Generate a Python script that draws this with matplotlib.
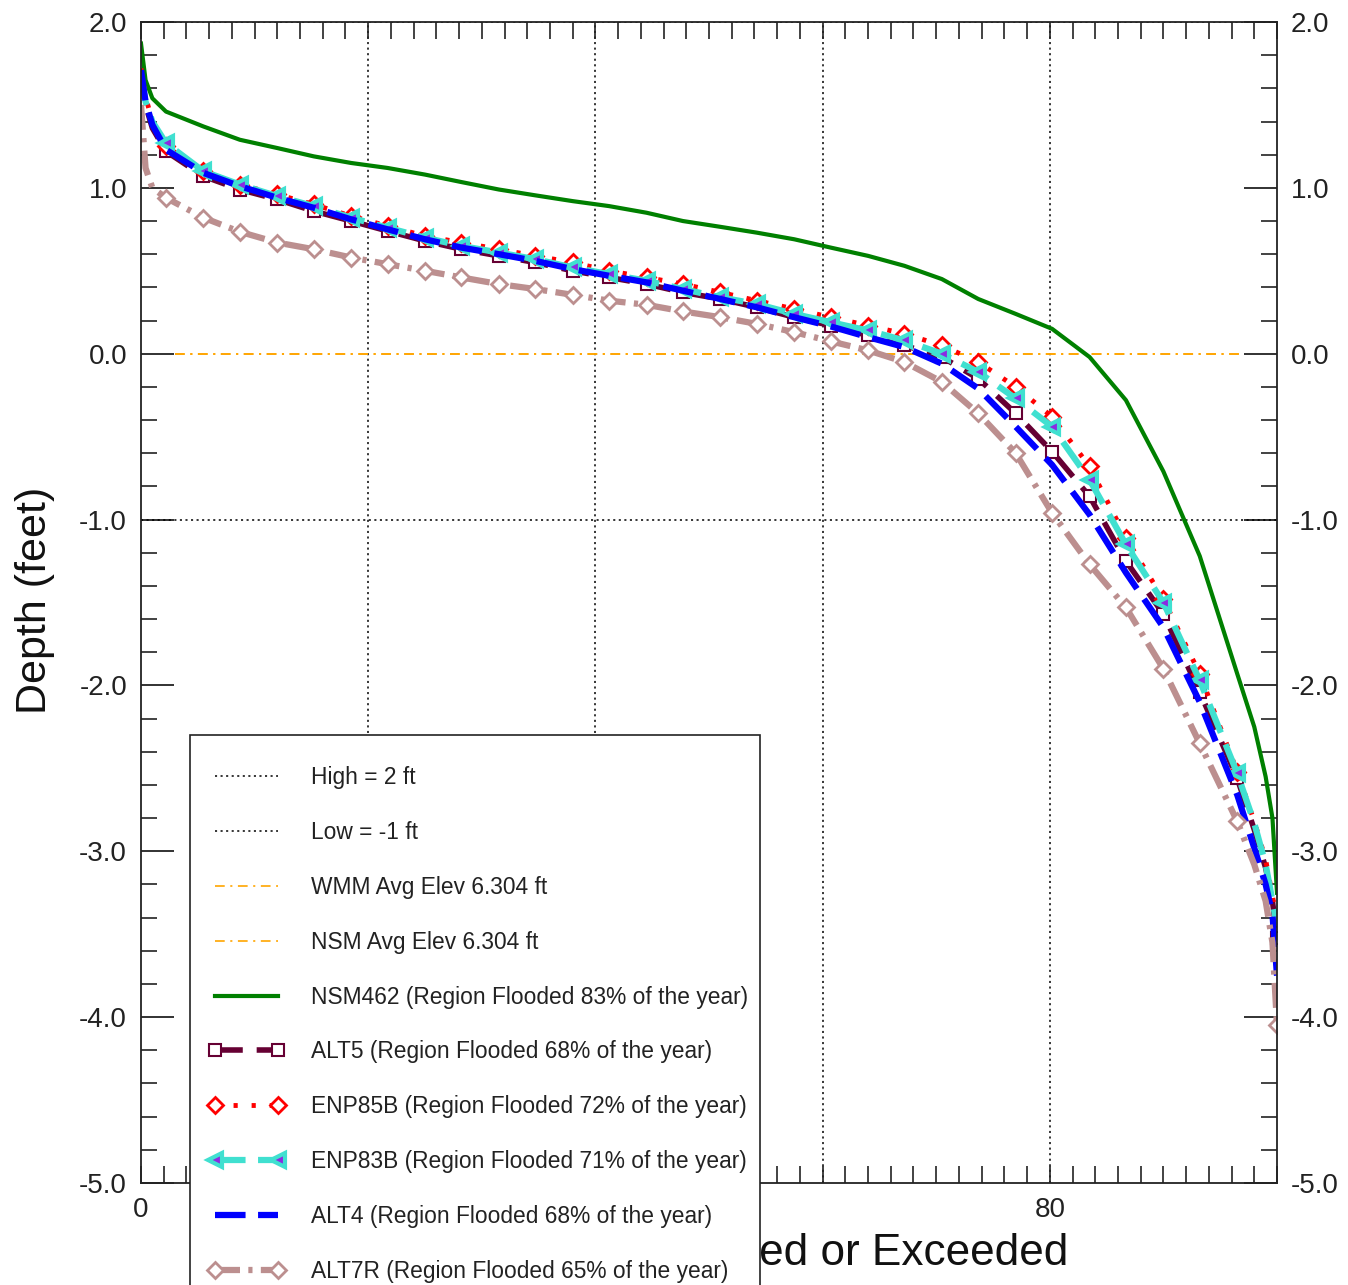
import matplotlib
matplotlib.use("Agg")
import matplotlib.pyplot as plt
from matplotlib.patches import Rectangle
from matplotlib.ticker import MultipleLocator, FixedLocator, FixedFormatter

plt.rcParams["font.family"] = ["Liberation Sans", "DejaVu Sans"]
plt.rcParams["axes.unicode_minus"] = False
plt.rcParams["lines.scale_dashes"] = False

# percent of time equaled or exceeded (shared x for all stage-duration curves)
pct = [0, 0.4, 1.0, 2.2, 5.5, 8.7, 12.0, 15.2, 18.5, 21.7, 25.0, 28.2, 31.5,
       34.7, 38.0, 41.2, 44.5, 47.7, 51.0, 54.2, 57.5, 60.7, 64.0, 67.2, 70.5,
       73.7, 77.0, 80.2, 83.5, 86.7, 90.0, 93.2, 96.5, 98.0, 99.0, 99.6, 100]

nsm462 = [1.87, 1.65, 1.54, 1.46, 1.37, 1.29, 1.24, 1.19, 1.15, 1.12, 1.08, 1.035,
          0.99, 0.955, 0.92, 0.89, 0.85, 0.80, 0.765, 0.73, 0.69, 0.64, 0.59, 0.53,
          0.45, 0.33, 0.24, 0.15, -0.02, -0.28, -0.71, -1.22, -1.93, -2.25, -2.55,
          -2.80, -3.25]
alt5 = [1.70, 1.50, 1.36, 1.22, 1.07, 0.99, 0.93, 0.86, 0.80, 0.74, 0.68, 0.63,
        0.59, 0.55, 0.50, 0.46, 0.42, 0.37, 0.33, 0.28, 0.22, 0.17, 0.11, 0.05,
        -0.02, -0.15, -0.36, -0.59, -0.86, -1.25, -1.57, -2.04, -2.56, -2.87,
        -3.10, -3.30, -3.52]
enp85b = [1.72, 1.55, 1.40, 1.25, 1.10, 1.02, 0.96, 0.90, 0.83, 0.77, 0.71, 0.67,
          0.63, 0.59, 0.55, 0.50, 0.46, 0.42, 0.37, 0.32, 0.27, 0.22, 0.17, 0.12,
          0.05, -0.05, -0.20, -0.38, -0.68, -1.11, -1.48, -1.93, -2.52, -2.82,
          -3.05, -3.27, -3.41]
enp83b = [1.68, 1.52, 1.40, 1.27, 1.10, 1.02, 0.95, 0.89, 0.82, 0.76, 0.70, 0.65,
          0.61, 0.57, 0.52, 0.48, 0.44, 0.39, 0.34, 0.30, 0.24, 0.19, 0.14, 0.08,
          0.00, -0.11, -0.27, -0.44, -0.76, -1.15, -1.50, -1.97, -2.53, -2.83,
          -3.08, -3.30, -3.45]
alt4 = [1.71, 1.52, 1.38, 1.23, 1.09, 1.01, 0.94, 0.88, 0.81, 0.75, 0.69, 0.64,
        0.60, 0.56, 0.51, 0.47, 0.43, 0.38, 0.33, 0.28, 0.22, 0.165, 0.10, 0.04,
        -0.06, -0.21, -0.44, -0.67, -0.97, -1.32, -1.65, -2.10, -2.66, -2.98,
        -3.20, -3.38, -3.75]
alt7r = [1.50, 1.12, 1.00, 0.94, 0.82, 0.735, 0.67, 0.63, 0.58, 0.54, 0.50, 0.46,
         0.42, 0.39, 0.355, 0.32, 0.295, 0.255, 0.22, 0.18, 0.13, 0.075, 0.02,
         -0.05, -0.17, -0.36, -0.60, -0.96, -1.27, -1.53, -1.90, -2.35, -2.82,
         -3.08, -3.30, -3.55, -4.05]

high_depth = 2.0
low_depth = -1.0
avg_elev_x = [3, 97]
avg_elev_y = [0.0, 0.0]
grid_x = [20, 40, 60, 80]
xtick_vals = [0, 80]
ytick_vals = [2, 1, 0, -1, -2, -3, -4, -5]
ytick_labels = ["2.0", "1.0", "0.0", "-1.0", "-2.0", "-3.0", "-4.0", "-5.0"]

W, H = 1348, 1285
fig = plt.figure(figsize=(W / 100, H / 100), dpi=100)
ax = fig.add_axes([141 / W, 1 - 1183 / H, (1277 - 141) / W, (1183 - 22) / H])
ax.set_xlim(0, 100)
ax.set_ylim(-5, 2)

# reference lines
dot = (0, (1.5, 2.5))
ax.axhline(high_depth, color="black", lw=1.1, ls=dot, label="High = 2 ft")
ax.axhline(low_depth, color="black", lw=1.1, ls=dot, label="Low = -1 ft")
for gx in grid_x:
    ax.axvline(gx, color="black", lw=1.1, ls=dot, zorder=1)
dashdot = (0, (7, 4, 1.5, 4))
ax.plot(avg_elev_x, avg_elev_y, color="orange", lw=1.2, ls=dashdot,
        label="WMM Avg Elev 6.304 ft")
ax.plot(avg_elev_x, avg_elev_y, color="orange", lw=1.2, ls=dashdot,
        label="NSM Avg Elev 6.304 ft")

marks = list(range(3, 33))
marks_end = marks + [len(pct) - 1]

ax.plot(pct, nsm462, color="green", lw=3.0, ls="-",
        label="NSM462 (Region Flooded 83% of the year)")
ax.plot(pct, alt5, color="#660033", lw=4.0, ls=(0, (20, 10)),
        marker="s", ms=8, mfc="white", mec="#660033", mew=1.5, markevery=marks_end,
        label="ALT5 (Region Flooded 68% of the year)")
ax.plot(pct, enp85b, color="red", lw=3.5, ls=(0, (3, 10)),
        marker="D", ms=8, mfc="white", mec="red", mew=2, markevery=marks,
        label="ENP85B (Region Flooded 72% of the year)")
ax.plot(pct, enp83b, color="turquoise", lw=4.5, ls=(0, (22, 9)),
        marker="<", ms=10, mfc="#8A2BE2", mec="turquoise", mew=3, markevery=marks,
        label="ENP83B (Region Flooded 71% of the year)")
ax.plot(pct, alt4, color="blue", lw=4.5, ls=(0, (22, 9)),
        label="ALT4 (Region Flooded 68% of the year)")
ax.plot(pct, alt7r, color="rosybrown", lw=4.5, ls=(0, (18, 6, 3, 6)),
        marker="D", ms=8, mfc="white", mec="rosybrown", mew=2, markevery=marks_end,
        label="ALT7R (Region Flooded 65% of the year)")

# axes styling
for sp in ax.spines.values():
    sp.set_color("#222222")
    sp.set_linewidth(1.3)

ax.xaxis.set_major_locator(FixedLocator(xtick_vals))
ax.xaxis.set_minor_locator(MultipleLocator(2))
ax.yaxis.set_major_locator(FixedLocator(ytick_vals))
ax.yaxis.set_major_formatter(FixedFormatter(ytick_labels))
ax.yaxis.set_minor_locator(MultipleLocator(0.2))

ax.tick_params(axis="both", which="both", direction="in", top=True, right=True,
               color="#222222", labelcolor="#222222", labelsize=20)
ax.tick_params(axis="x", which="both", length=12, width=1.2, pad=10)
ax.tick_params(axis="y", which="major", length=24, width=1.3, pad=10,
               labelright=True)
ax.tick_params(axis="y", which="minor", length=11.5, width=1.2)

fig.text(35 / W, 1 - 600 / H, "Depth (feet)", rotation=90, fontsize=31,
         ha="center", va="center", color="#111111")
# x label lives in the axes so the legend box can sit on top of it
ax.text(1068 / W, 1 - 1253 / H, "Percent Time Equaled or Exceeded", fontsize=31.8,
        ha="right", va="center", color="#111111", transform=fig.transFigure,
        clip_on=False, zorder=1)

# legend box runs off the bottom of the figure, as in the original
box = Rectangle((190 / W, 1 - 1300 / H), (760 - 190) / W, (1300 - 735) / H,
                transform=fig.transFigure, facecolor="white", edgecolor="#222222",
                lw=1.2, clip_on=False, zorder=9)
ax.add_patch(box)
leg = ax.legend(loc="upper left", bbox_to_anchor=(208 / W, 1 - 766 / H),
                bbox_transform=fig.transFigure, borderaxespad=0, borderpad=0,
                fontsize=16.4, frameon=False, handlelength=3.38,
                handletextpad=1.14, labelspacing=1.40, numpoints=2)
leg.set_zorder(10)
for t in leg.get_texts():
    t.set_color("#222222")

fig.savefig("out.png", dpi=100)
